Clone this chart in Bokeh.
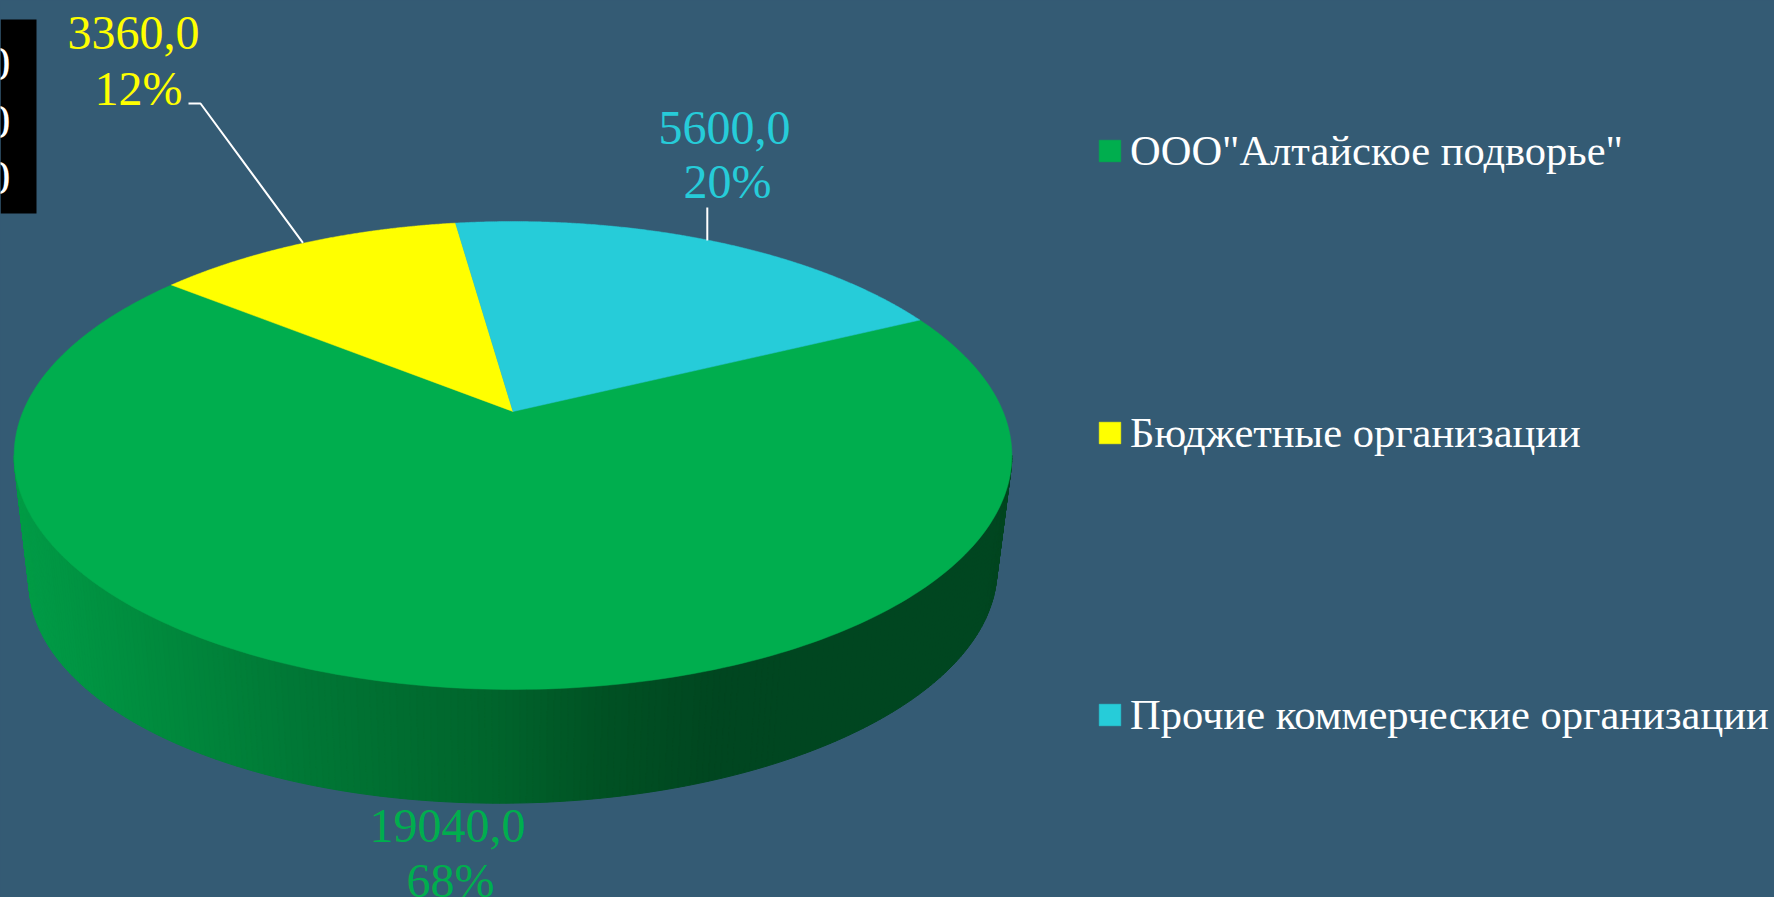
import numpy as np
from bokeh.plotting import figure
from bokeh.models import Range1d, Legend, LegendItem
from bokeh.core.properties import value
from bokeh.embed import file_html
from bokeh.resources import INLINE

categories = ['ООО"Алтайское подворье"', "Бюджетные организации", "Прочие коммерческие организации"]
values = [19040.0, 3360.0, 5600.0]
colors = ["#00ae4e", "#ffff00", "#26ccd9"]
text_colors = ["#00ae4e", "#ffff00", "#26ccd9"]
BG = "#345b74"
FONT = "Liberation Serif"
W, H = 1774, 897

# perspective projection of the pie disc
CX, CY, RX, RY, K = 512.5, 411.0, 490.0, 225.7, 0.188
DEPTH, SHRINK, SHEAR = 122.0, 0.970, 0.013
FIRST_ANGLE = 26.0  # degrees, math convention; slices run clockwise


def project(theta_deg, bottom=False):
    t = np.radians(theta_deg)
    d = 1 + K * np.sin(t)
    f = SHRINK if bottom else 1.0
    x = CX + f * RX * np.cos(t) / d
    y = CY + (DEPTH if bottom else 0.0) - f * RY * np.sin(t) / d
    if bottom:
        y = y - SHEAR * (x - CX)
    return x, y


shade_x = [25, 150, 300, 500, 600, 720, 1000]
shade_g = [156, 140, 120, 100, 82, 70, 70]
shade_b = [70, 62, 54, 44, 36, 32, 32]

p = figure(width=W, height=H, x_range=Range1d(0, W), y_range=Range1d(H, 0),
           toolbar_location=None, output_backend="svg", min_border=0,
           background_fill_color=BG, border_fill_color=BG, outline_line_color=None)
p.axis.visible = False
p.grid.visible = False

# side wall
sil = np.degrees(np.arcsin(K))
edges = np.linspace(180 + sil, 360 - sil, 241)
for a0, a1 in zip(edges[:-1], edges[1:]):
    xs0, ys0 = project(np.array([a0, a1]))
    xs1, ys1 = project(np.array([a1, a0]), bottom=True)
    xm = (xs0.mean() + xs1.mean()) / 2
    g = np.interp(xm, shade_x, shade_g)
    b = np.interp(xm, shade_x, shade_b)
    c = "#%02x%02x%02x" % (0, int(g), int(b))
    p.patch(np.r_[xs0, xs1], np.r_[ys0, ys1], fill_color=c, line_color=c, line_width=1)

# top faces
total = sum(values)
start = FIRST_ANGLE
renderers = []
mids = []
for v, c in zip(values, colors):
    sweep = v / total * 360
    ang = np.linspace(start, start - sweep, 240)
    x, y = project(ang)
    r = p.patch(np.r_[CX, x], np.r_[CY, y], fill_color=c, line_color=c, line_width=0.5)
    renderers.append(r)
    mids.append(start - sweep / 2)
    start -= sweep

# leader lines
mx, my = project(mids[1])
p.line([188, 200, mx - 2], [103, 103, my], line_color="white", line_width=2)
mx, my = project(mids[2])
p.line([mx - 3, mx - 3], [207, my], line_color="white", line_width=2)

# data labels
label_pos = [(447, 825, 450, 880), (133, 32, 138, 88), (724, 127, 727, 181)]
for v, c, (x1, y1, x2, y2) in zip(values, text_colors, label_pos):
    p.text([x1], [y1], text=[f"{v:.1f}".replace(".", ",")], text_color=c, text_font=value(FONT),
           text_font_size="48px", text_align="center", text_baseline="alphabetic")
    p.text([x2], [y2], text=[f"{round(v / total * 100)}%"], text_color=c, text_font=value(FONT),
           text_font_size="48px", text_align="center", text_baseline="alphabetic")

# clipped black box at the left edge
p.quad(left=[0], right=[36], top=[19], bottom=[213], fill_color="black", line_color=None)
p.text([10, 10, 10], [63, 121, 177], text=["0", "0", "0"], text_color="white", text_font=value(FONT),
       text_font_size="48px", text_align="right", text_baseline="alphabetic")

legend = Legend(items=[LegendItem(label=c, renderers=[r]) for c, r in zip(categories, renderers)],
                location=(1096, 158), orientation="vertical", spacing=233,
                glyph_width=27, glyph_height=27, label_standoff=7,
                label_text_font=FONT, label_text_font_size="42.5px", label_text_color="white",
                background_fill_alpha=0, border_line_color=None, padding=0, margin=0)
p.add_layout(legend, "center")

html = file_html(p, INLINE)
html = html.replace("<head>", f"<head><style>html,body{{margin:0;padding:0;overflow:hidden;background:{BG}}}</style>", 1)
open("out.html", "w").write(html)
